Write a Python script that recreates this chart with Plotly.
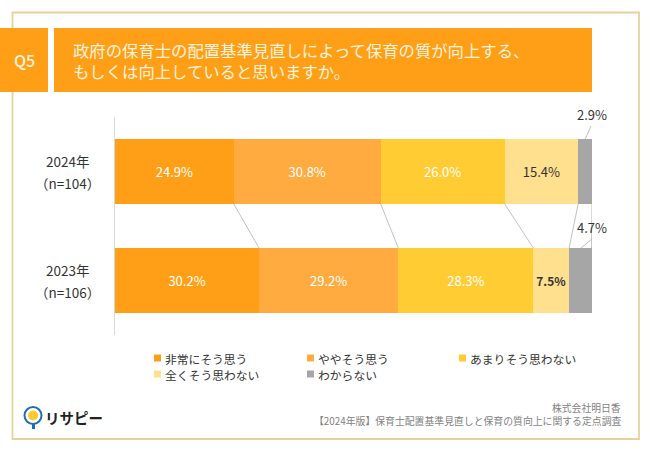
import numpy as np
import plotly.graph_objects as go

W, H = 650, 450

years = ['2024年', '2023年']
samples = ['（n=104）', '（n=106）']
answers = ['非常にそう思う', 'ややそう思う', 'あまりそう思わない', '全くそう思わない', 'わからない']
v_2024 = [24.9, 30.8, 26.0, 15.4, 2.9]
v_2023 = [30.2, 29.2, 28.3, 7.5, 4.7]
colors = ['#FF9F17', '#FFAB40', '#FFCC33', '#FFE08F', '#A6A6A6']
label_colors = ['white', 'white', 'white', '#333333', '#333333']

y_pos = [0, 1]
bar_w = 0.596


def px(x):
    return x / W


def py(y):
    return 1 - y / H


def box(x0, y0, x1, y1, fill, line=None, lw=0, kind='rect'):
    return dict(type=kind, xref='paper', yref='paper', layer='below',
                x0=px(x0), x1=px(x1), y0=py(y0), y1=py(y1),
                fillcolor=fill, line=dict(color=line or fill, width=lw))


def text(x, y, s, size, color='#333333', anchor='center', align='center', weight=None):
    return dict(xref='paper', yref='paper', x=px(x), y=py(y), text=s, showarrow=False,
                xanchor=anchor, yanchor='middle', align=align,
                font=dict(size=size, color=color, weight=weight))


fig = go.Figure()

for i, name in enumerate(answers):
    vals = [v_2024[i], v_2023[i]]
    # the two smallest grey segments are labelled outside the bar
    labels = [f'{v:.1f}%' if i < 4 else '' for v in vals]
    # 7.5% reads heavier than the other labels
    weights = [400, 700] if i == 3 else [400, 400]
    fig.add_trace(go.Bar(
        y=y_pos, x=vals, name=name, orientation='h', width=bar_w,
        marker=dict(color=colors[i], line=dict(width=0)),
        text=labels, textposition='inside', insidetextanchor='middle', textangle=0,
        textfont=dict(size=13, color=label_colors[i], weight=weights),
        showlegend=False,
    ))

# connector lines between the stacks
cum_2024 = np.cumsum(v_2024)
cum_2023 = np.cumsum(v_2023)
for a, b in zip(cum_2024, cum_2023):
    fig.add_trace(go.Scatter(
        x=[a, b], y=[y_pos[0] + bar_w / 2, y_pos[1] - bar_w / 2], mode='lines',
        line=dict(color='#A6A6A6', width=0.7), showlegend=False,
    ))

shapes = [
    box(12.5, 12.5, 639, 439, 'white', '#E8D29C', 1.8),
    box(0, 28, 48, 92, '#FF9F17'),
    box(54, 28, 592, 92, '#FF9F17'),
]

# leader lines for the outside labels
for x0, y0, x1, y1 in [(585, 139.5, 591, 126), (581, 248, 592, 239)]:
    shapes.append(dict(type='line', xref='paper', yref='paper',
                       x0=px(x0), y0=py(y0), x1=px(x1), y1=py(y1),
                       line=dict(color='#A6A6A6', width=0.7)))

annotations = [
    text(24, 60, 'Q5', 16, '#FFF3DC', weight=500),
    text(71, 50, '政府の保育士の配置基準見直しによって保育の質が向上する、', 16.35, '#FFF3DC', anchor='left'),
    text(71, 71, 'もしくは向上していると思いますか。', 16.35, '#FFF3DC', anchor='left'),
    text(592, 115, f'{v_2024[4]:.1f}%', 13),
    text(592, 227.5, f'{v_2023[4]:.1f}%', 13),
]

for yc, year, n in zip([172, 280.5], years, samples):
    annotations.append(text(67, yc - 11, year, 13.5))
    annotations.append(text(67, yc + 11, n, 13.5))

annotations += [
    text(623, 408, '株式会社明日香', 9.8, '#7F7F7F', anchor='right'),
    text(623, 421, '【2024年版】保育士配置基準見直しと保育の質向上に関する定点調査', 9.85, '#7F7F7F', anchor='right'),
]

# hand placed legend, 3 columns
legend_at = [(158, 358), (311, 358), (463, 358), (158, 374), (311, 374)]
for (lx, ly), name, c in zip(legend_at, answers, colors):
    shapes.append(box(lx - 4, ly - 3.5, lx + 3, ly + 3.5, c))
    annotations.append(text(lx + 5, ly, name, 11.8, anchor='left'))

# logo
shapes += [
    box(32, 420, 35, 429, '#1F6DB5'),
    box(24.5, 407, 41.5, 424, 'white', '#1F6DB5', 2, 'circle'),
    box(28, 410.5, 38, 420.5, '#FFC933', kind='circle'),
    dict(type='path', xref='paper', yref='paper', layer='below',
         path=f'M {px(33)} {py(415.5)} L {px(28)} {py(415.5)} A 0.0077 0.0111 0 0 0 {px(38)} {py(415.5)} Z',
         fillcolor='#EE6A6A', line=dict(width=0)),
]
annotations.append(text(74, 417, 'リサピー', 14.5, '#222222', weight=700))

fig.update_layout(
    width=W, height=H,
    barmode='stack', bargap=0.4,
    margin=dict(l=0, r=0, t=0, b=0),
    paper_bgcolor='white', plot_bgcolor='rgba(0,0,0,0)',
    font=dict(family='Noto Sans CJK JP', color='#333333'),
    xaxis=dict(domain=[px(115), px(592)], range=[0, 100], visible=False),
    yaxis=dict(domain=[py(335), py(117)], range=[1.5, -0.5], tickvals=y_pos, ticktext=['', ''],
               showgrid=False, zeroline=False, showline=True, linecolor='#D9D9D9', linewidth=1, ticks=''),
    shapes=shapes,
    annotations=annotations,
)

fig.write_html("out.html", post_script="document.body.style.margin='0';", config={'displayModeBar': False})
